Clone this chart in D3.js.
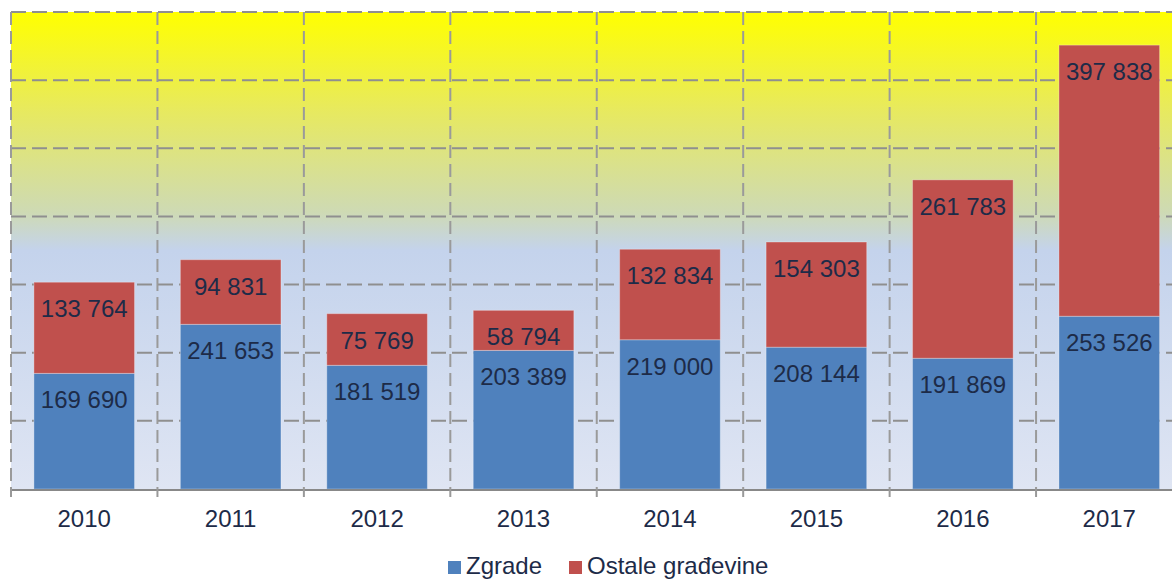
<!DOCTYPE html>
<html>
<head>
<meta charset="utf-8">
<script src="https://cdn.jsdelivr.net/npm/d3@7/dist/d3.min.js"></script>
<style>
html,body{margin:0;padding:0;background:#fff;}
svg{display:block;}
text{font-family:"Liberation Sans",Arial,sans-serif;fill:#1d2b48;}
</style>
</head>
<body>
<svg id="chart" width="1172" height="580"></svg>
<script>
const years = ["2010","2011","2012","2013","2014","2015","2016","2017"];
const zgrade = [169690, 241653, 181519, 203389, 219000, 208144, 191869, 253526];
const ostale = [133764, 94831, 75769, 58794, 132834, 154303, 261783, 397838];
const seriesNames = ["Zgrade", "Ostale građevine"];
const seriesColors = ["#4f81bd", "#c0504d"];
const yTicks = [0, 100000, 200000, 300000, 400000, 500000, 600000, 700000];

const fmt = v => d3.format(",")(v).replace(/,/g, " ");

const svg = d3.select("#chart");
const L = 11, R = 1182.5, T = 12, B = 489;

const pi = 0.313;
const x = d3.scaleBand().domain(years).range([L, R]).paddingInner(pi).paddingOuter(pi/2);
const y = d3.scaleLinear().domain([0, 700000]).range([B, T]);

// background gradient
const defs = svg.append("defs");
const grad = defs.append("linearGradient").attr("id","bg").attr("x1",0).attr("y1",0).attr("x2",0).attr("y2",1);
grad.append("stop").attr("offset","0%").attr("stop-color","#ffff00");
grad.append("stop").attr("offset","20%").attr("stop-color","#e8ea5c");
grad.append("stop").attr("offset","42%").attr("stop-color","#cedab4");
grad.append("stop").attr("offset","50%").attr("stop-color","#c4d3ec");
grad.append("stop").attr("offset","100%").attr("stop-color","#dfe5f3");
svg.append("rect").attr("x",L).attr("y",T).attr("width",R-L).attr("height",B-T).attr("fill","url(#bg)");

// horizontal gridlines
svg.append("g").selectAll("line").data(yTicks.filter(v=>v>0)).join("line")
  .attr("x1",L).attr("x2",R).attr("y1",d=>y(d)).attr("y2",d=>y(d))
  .attr("stroke","#8f8f8f").attr("stroke-width",2).attr("stroke-dasharray","15,6");

// vertical gridlines at category boundaries
const bounds = years.map(d => x(d) - x.step()*pi/2).concat([R]);
svg.append("g").selectAll("line").data(bounds).join("line")
  .attr("x1",d=>d).attr("x2",d=>d).attr("y1",T).attr("y2",B)
  .attr("stroke","#9a9a9a").attr("stroke-width",2).attr("stroke-dasharray","13,6");

// stacked bars
const stackData = years.map((yr,i)=>({year:yr, z:zgrade[i], o:ostale[i]}));
const stack = d3.stack().keys(["z","o"])(stackData);
const g = svg.append("g");
stack.forEach((layer, li) => {
  g.append("g").selectAll("rect").data(layer).join("rect")
    .attr("x", d => x(d.data.year))
    .attr("y", d => y(d[1]))
    .attr("width", x.bandwidth())
    .attr("height", d => y(d[0]) - y(d[1]))
    .attr("fill", seriesColors[li])
    .attr("stroke", "rgba(255,255,255,0.3)")
    .attr("stroke-width", 1);
  g.append("g").selectAll("text").data(layer).join("text")
    .attr("x", d => x(d.data.year) + x.bandwidth()/2)
    .attr("y", d => y(d[1]) + 35)
    .attr("text-anchor","middle")
    .attr("font-size","24px")
    .text(d => fmt(d[1]-d[0]));
});

// x axis
svg.append("line").attr("x1",L).attr("x2",R).attr("y1",B+1).attr("y2",B+1)
  .attr("stroke","#888").attr("stroke-width",2);
svg.append("g").selectAll("line").data(bounds).join("line")
  .attr("x1",d=>d).attr("x2",d=>d).attr("y1",B).attr("y2",B+8)
  .attr("stroke","#999").attr("stroke-width",2);
svg.append("g").selectAll("text").data(years).join("text")
  .attr("x", d => x(d) + x.bandwidth()/2)
  .attr("y", 527)
  .attr("text-anchor","middle")
  .attr("font-size","24px")
  .text(d=>d);

// legend
const legX = [448, 569];
const lg = svg.append("g");
seriesNames.forEach((n,i)=>{
  lg.append("rect").attr("x",legX[i]).attr("y",561).attr("width",13).attr("height",13).attr("fill",seriesColors[i]);
  lg.append("text").attr("x",legX[i]+18).attr("y",574).attr("font-size","24px").text(n);
});
</script>
</body>
</html>
